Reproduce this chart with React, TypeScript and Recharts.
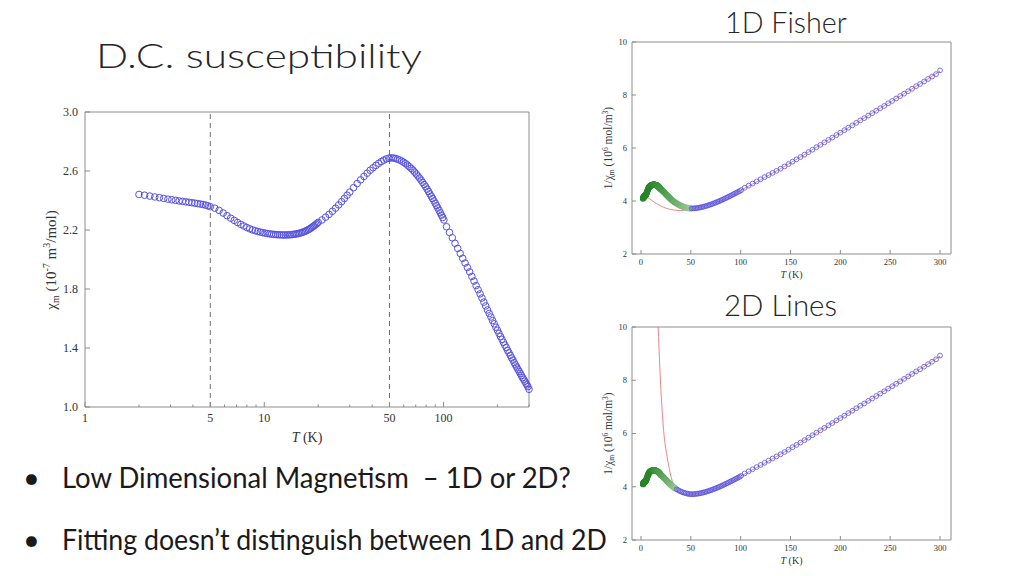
import { useLayoutEffect, useRef, useState } from 'react';
import { ComposedChart, Scatter, Line, XAxis, YAxis, ReferenceLine } from 'recharts';

// measured temperature points (K) and molar susceptibility (10^-7 m^3/mol)
const temperature = [
  2, 2.15, 2.3, 2.45, 2.6, 2.75, 2.9, 3.05, 3.2, 3.35, 3.5, 3.65, 3.8, 3.95, 4.1, 4.25, 4.4, 4.55, 4.7, 4.85, 5,
  5.3, 5.6, 5.9, 6.2, 6.5, 6.8, 7.1, 7.4, 7.7, 8, 8.3, 8.6, 8.9, 9.2, 9.5, 9.8, 10.1, 10.4, 10.7, 11,
  11.3, 11.6, 11.9, 12.2, 12.5, 12.8, 13.1, 13.4, 13.7, 14, 14.3, 14.6, 14.9, 15.2, 15.5, 15.8, 16.1, 16.4, 16.7, 17,
  17.3, 17.6, 17.9, 18.2, 18.5, 18.8, 19.1, 19.4, 19.7, 20,
  21, 22, 23, 24, 25, 26, 27, 28, 29, 30,
  31.5, 33, 34.5, 36, 37.5, 39, 40.5, 42, 43.5, 45, 46.5, 48, 49.5, 51, 52.5, 54, 55.5, 57, 58.5, 60,
  61.5, 63, 64.5, 66, 67.5, 69, 70.5, 72, 73.5, 75, 76.5, 78, 79.5, 81, 82.5, 84, 85.5, 87, 88.5, 90,
  91.5, 93, 94.5, 96, 97.5, 99, 100.5,
  104, 108, 112, 116, 120, 124, 128, 132, 136, 140, 144, 148, 152, 156, 160, 164, 168, 172, 176, 180,
  184, 188, 192, 196, 200, 204, 208, 212, 216, 220, 224, 228, 232, 236, 240, 244, 248, 252, 256, 260,
  264, 268, 272, 276, 280, 284, 288, 292, 296, 300,
];

const chiM = [
  2.441, 2.436, 2.43, 2.424, 2.419, 2.414, 2.409, 2.405, 2.401, 2.397, 2.394, 2.391, 2.388, 2.385, 2.382, 2.379, 2.376, 2.373, 2.369, 2.364, 2.358,
  2.348, 2.333, 2.315, 2.297, 2.28, 2.265, 2.251, 2.238, 2.227, 2.217, 2.208, 2.201, 2.195, 2.19, 2.186, 2.182, 2.179, 2.176, 2.174, 2.172,
  2.17, 2.169, 2.168, 2.167, 2.167, 2.166, 2.166, 2.167, 2.167, 2.168, 2.169, 2.171, 2.172, 2.174, 2.176, 2.179, 2.182, 2.185, 2.189, 2.193,
  2.197, 2.202, 2.207, 2.213, 2.219, 2.225, 2.231, 2.238, 2.245, 2.252,
  2.268, 2.287, 2.306, 2.327, 2.348, 2.37, 2.392, 2.414, 2.436, 2.457,
  2.487, 2.515, 2.54, 2.563, 2.585, 2.605, 2.622, 2.638, 2.652, 2.664, 2.674, 2.682, 2.687, 2.689, 2.688, 2.685, 2.68, 2.674, 2.667, 2.659,
  2.65, 2.64, 2.629, 2.618, 2.606, 2.593, 2.58, 2.566, 2.552, 2.538, 2.523, 2.508, 2.493, 2.477, 2.461, 2.445, 2.429, 2.413, 2.397, 2.381,
  2.365, 2.349, 2.333, 2.317, 2.301, 2.285, 2.268,
  2.222, 2.184, 2.147, 2.11, 2.075, 2.041, 2.008, 1.976, 1.946, 1.916, 1.885, 1.854, 1.823, 1.795, 1.767, 1.739, 1.711, 1.685, 1.658, 1.634,
  1.61, 1.586, 1.564, 1.541, 1.52, 1.499, 1.478, 1.459, 1.439, 1.42, 1.403, 1.384, 1.367, 1.35, 1.333, 1.318, 1.301, 1.286, 1.271, 1.256,
  1.242, 1.228, 1.214, 1.2, 1.188, 1.175, 1.162, 1.15, 1.138, 1.12,
];

// fitted curves of 1/chi (10^6 mol/m^3)
const fisherT = [5, 8, 12, 16, 20, 25, 30, 35, 40, 45, 50, 60, 70, 80, 90, 100, 120, 140, 160, 180, 200, 220, 240, 260, 280, 300];
const fisherFit = [4.18, 4.1, 3.99, 3.89, 3.81, 3.73, 3.68, 3.65, 3.64, 3.66, 3.7, 3.77, 3.88, 4.01, 4.18, 4.4, 4.8, 5.22, 5.66, 6.12, 6.58, 7.04, 7.5, 7.96, 8.42, 8.9];

const linesT = [17.3, 18, 19, 20, 21.5, 23, 25, 27.5, 30, 33, 36, 40, 45, 50, 60, 70, 80, 90, 100, 120, 140, 160, 180, 200, 220, 240, 260, 280, 300];
const linesFit = [10, 9.3, 8.4, 7.65, 6.7, 6.0, 5.4, 4.85, 4.4, 4.05, 3.87, 3.77, 3.72, 3.71, 3.76, 3.87, 4.01, 4.18, 4.4, 4.8, 5.22, 5.66, 6.12, 6.58, 7.04, 7.5, 7.96, 8.42, 8.9];

const mainTicksX = [1, 5, 10, 50, 100];
const minorTicksX = [2, 3, 4, 6, 7, 8, 9, 20, 30, 40, 60, 70, 80, 90, 200, 300];
const allTicksX = [...mainTicksX, ...minorTicksX].sort((a, b) => a - b);
const mainTicksY = [1.0, 1.4, 1.8, 2.2, 2.6, 3.0];
const sideTicksX = [0, 50, 100, 150, 200, 250, 300];
const sideTicksY = [2, 4, 6, 8, 10];

const SERIF = '"Liberation Serif", "Times New Roman", serif';
const SANS = 'Lato, "Open Sans", sans-serif';
const FRAME = '#8c8c8c';
const BLUE = '#5652e0';

function greenShade(t: number, end: number) {
  const k = Math.min(1, Math.max(0, (t - 10) / (end - 10)));
  const a = [40, 134, 40];
  const b = [150, 198, 148];
  const c = a.map((v, i) => Math.round(v + (b[i] - v) * k));
  return `rgb(${c[0]},${c[1]},${c[2]})`;
}

// slide text squeezed sideways to the width it has on the slide
function FitText({ x, y, width, children, ...rest }: any) {
  const ref = useRef<SVGTextElement>(null);
  const [k, setK] = useState(1);
  useLayoutEffect(() => {
    const w = ref.current ? ref.current.getComputedTextLength() : 0;
    if (w > 0) setK(width / w);
  }, [width]);
  return (
    <text ref={ref} transform={`translate(${x},${y}) scale(${k},1)`} {...rest}>
      {children}
    </text>
  );
}

// inward tick marks drawn by hand, labels only where asked
const tickX = (side: 'bottom' | 'top', major: number[], len: number, font: number, gap: number, fmt = (v: number) => String(v)) =>
  (p: any) => {
    const v = p.payload.value;
    const isMajor = major.includes(v);
    const l = isMajor ? len : len / 2;
    const dir = side === 'bottom' ? -1 : 1;
    return (
      <g>
        <line x1={p.x} x2={p.x} y1={p.y} y2={p.y + dir * l} stroke={FRAME} />
        {side === 'bottom' && isMajor && (
          <text x={p.x} y={p.y + gap} dy="0.71em" textAnchor="middle" fontFamily={SERIF} fontSize={font} fill="#333">
            {fmt(v)}
          </text>
        )}
      </g>
    );
  };

const tickY = (side: 'left' | 'right', len: number, font: number, gap: number, fmt = (v: number) => String(v)) =>
  (p: any) => {
    const v = p.payload.value;
    const dir = side === 'left' ? 1 : -1;
    return (
      <g>
        <line x1={p.x} x2={p.x + dir * len} y1={p.y} y2={p.y} stroke={FRAME} />
        {side === 'left' && (
          <text x={p.x - gap} y={p.y} dy="0.35em" textAnchor="end" fontFamily={SERIF} fontSize={font} fill="#333">
            {fmt(v)}
          </text>
        )}
      </g>
    );
  };

function MainChart() {
  const data = temperature.map((t, i) => ({ t, v: chiM[i] }));
  const fmt = (v: number) => v.toFixed(1);
  return (
    <div style={{ position: 'absolute', left: 0, top: 0 }}>
      <ComposedChart width={560} height={450} margin={{ top: 111, right: 30, bottom: 42, left: 84 }}>
        <XAxis dataKey="t" type="number" scale="log" domain={[1, 300]} ticks={allTicksX}
          interval={0} height={1} tickSize={0} tickMargin={0} tickLine={false} stroke={FRAME}
          tick={tickX('bottom', mainTicksX, 5, 12, 6)} />
        <XAxis xAxisId="top" orientation="top" type="number" scale="log" domain={[1, 300]}
          ticks={allTicksX} interval={0} height={1} tickSize={0} tickMargin={0} tickLine={false} stroke={FRAME}
          tick={tickX('top', mainTicksX, 5, 12, 6)} />
        <YAxis dataKey="v" type="number" domain={[1, 3]} ticks={mainTicksY} interval={0} width={1}
          tickSize={0} tickMargin={0} tickLine={false} stroke={FRAME} tick={tickY('left', 5, 12, 7, fmt)} />
        <YAxis yAxisId="right" orientation="right" type="number" domain={[1, 3]} ticks={mainTicksY} interval={0}
          width={1} tickSize={0} tickMargin={0} tickLine={false} stroke={FRAME} tick={tickY('right', 5, 12, 7)} />
        <ReferenceLine x={5} stroke="#6e6e6e" strokeDasharray="5 4" />
        <ReferenceLine x={50} stroke="#6e6e6e" strokeDasharray="5 4" />
        <Scatter data={data} isAnimationActive={false}
          shape={(p: any) => <circle cx={p.cx} cy={p.cy} r={3.3} fill="none" stroke={BLUE} strokeWidth={1} />} />
      </ComposedChart>
    </div>
  );
}

function InverseChart({ top, bottom, fitT, fitV, greenEnd }: {
  top: number; bottom: number; fitT: number[]; fitV: number[]; greenEnd: number;
}) {
  const data = temperature.map((t, i) => ({ t, v: 10 / chiM[i] }));
  const fit = fitT.map((t, i) => ({ t, v: fitV[i] }));
  return (
    <div style={{ position: 'absolute', left: 590, top }}>
      <ComposedChart width={370} height={260} margin={{ top: 11, right: 8, bottom, left: 41 }}>
        <XAxis dataKey="t" type="number" domain={[-9, 311]} ticks={sideTicksX} interval={0}
          height={1} tickSize={0} tickMargin={0} tickLine={false} stroke={FRAME}
          tick={tickX('bottom', sideTicksX, 4, 8.5, 5)} />
        <XAxis xAxisId="top" orientation="top" type="number" domain={[-9, 311]} ticks={sideTicksX}
          interval={0} height={1} tickSize={0} tickMargin={0} tickLine={false} stroke={FRAME}
          tick={tickX('top', sideTicksX, 4, 8.5, 5)} />
        <YAxis dataKey="v" type="number" domain={[2, 10]} ticks={sideTicksY} interval={0} width={1}
          tickSize={0} tickMargin={0} tickLine={false} stroke={FRAME} tick={tickY('left', 4, 8.5, 5)} />
        <YAxis yAxisId="right" orientation="right" type="number" domain={[2, 10]} ticks={sideTicksY} interval={0}
          width={1} tickSize={0} tickMargin={0} tickLine={false} stroke={FRAME} tick={tickY('right', 4, 8.5, 5)} />
        <Line data={fit} dataKey="v" type="monotone" dot={false} stroke="#e8787a" strokeWidth={0.9} isAnimationActive={false} />
        <Scatter data={data} isAnimationActive={false}
          shape={(p: any) => {
            const t = p.payload.t;
            const c = t < greenEnd ? greenShade(t, greenEnd) : BLUE;
            return <circle cx={p.cx} cy={p.cy} r={2.4} fill="none" stroke={c} strokeWidth={t < greenEnd ? 1.4 : 0.8} />;
          }} />
      </ComposedChart>
    </div>
  );
}

function SideLabels({ cy, axisY }: { cy: number; axisY: number }) {
  return (
    <g fontFamily={SERIF} fill="#333">
      <text transform={`translate(612,${cy}) rotate(-90)`} textAnchor="middle" fontSize={11.5}>
        1/χ<tspan fontSize={7.5} dy={2}>m</tspan><tspan dy={-2}> (10</tspan>
        <tspan fontSize={7.5} dy={-4}>6</tspan><tspan dy={4}> mol/m</tspan>
        <tspan fontSize={7.5} dy={-4}>3</tspan><tspan dy={4}>)</tspan>
      </text>
      <text x={791.5} y={axisY + 24} textAnchor="middle" fontSize={10}>
        <tspan fontStyle="italic">T</tspan> (K)
      </text>
    </g>
  );
}

export default function App() {
  return (
    <div style={{ position: 'absolute', left: 0, top: 0, width: 1024, height: 576, background: '#fff', overflow: 'hidden' }}>
      <MainChart />
      <InverseChart top={30} bottom={35} fitT={fisherT} fitV={fisherFit} greenEnd={50} />
      <InverseChart top={315} bottom={34} fitT={linesT} fitV={linesFit} greenEnd={36} />
      <svg width={1024} height={576} style={{ position: 'absolute', left: 0, top: 0, pointerEvents: 'none' }}>
        <FitText x={96} y={68} width={326} fontFamily={SANS} fontWeight={300} fontSize={34} fill="#262626">
          D.C. susceptibility
        </FitText>
        <FitText x={725} y={33} width={122} fontFamily={SANS} fontWeight={300} fontSize={29} fill="#262626">
          1D Fisher
        </FitText>
        <FitText x={724} y={316} width={113} fontFamily={SANS} fontWeight={300} fontSize={29} fill="#262626">
          2D Lines
        </FitText>
        <g fontFamily={SANS} fontSize={29} fill="#1a1a1a">
          <text x={23} y={488}>•</text>
          <FitText x={62} y={488} width={509} style={{ whiteSpace: 'pre' }}>
            Low Dimensional Magnetism  – 1D or 2D?
          </FitText>
          <text x={23} y={550}>•</text>
          <FitText x={62} y={550} width={545}>
            Fitting doesn’t distinguish between 1D and 2D
          </FitText>
        </g>
        <g fontFamily={SERIF} fill="#333">
          <text transform="translate(56,260) rotate(-90)" textAnchor="middle" fontSize={15}>
            χ<tspan fontSize={10} dy={3}>m</tspan><tspan dy={-3}> (10</tspan>
            <tspan fontSize={10} dy={-6}>-7</tspan><tspan dy={6}> m</tspan>
            <tspan fontSize={10} dy={-6}>3</tspan><tspan dy={6}>/mol)</tspan>
          </text>
          <text x={307} y={442} textAnchor="middle" fontSize={14}>
            <tspan fontStyle="italic">T</tspan> (K)
          </text>
        </g>
        <SideLabels cy={148} axisY={254} />
        <SideLabels cy={433.5} axisY={540} />
      </svg>
    </div>
  );
}
